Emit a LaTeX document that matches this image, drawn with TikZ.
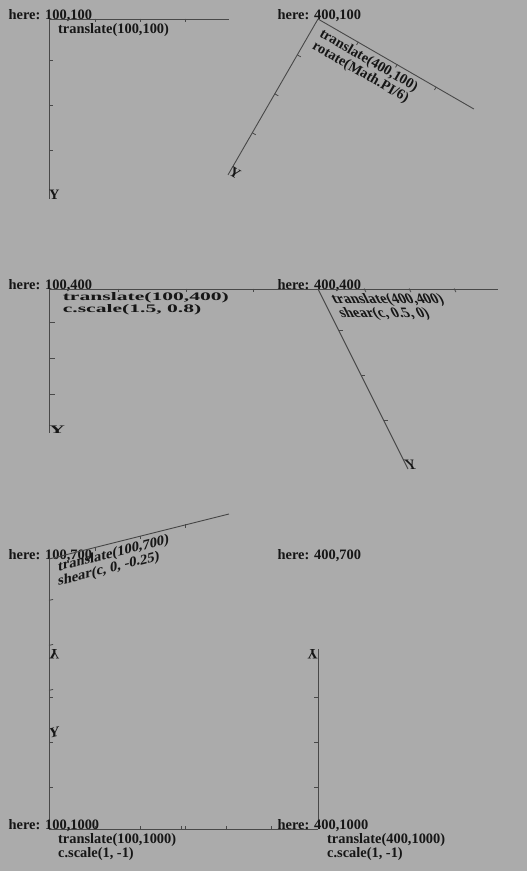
\documentclass[tikz,border=0pt]{standalone}
\usepackage{fontspec}
\setmainfont{Liberation Serif}
\definecolor{bgc}{RGB}{171,171,171}
\definecolor{txtc}{RGB}{22,22,22}
\definecolor{axc}{RGB}{72,72,72}
\newcommand\myaxes[1]{%
  \draw[axisline] (0,0) -- (200,0);
  \draw[axisline] (0,0) -- (0,-200);
  \foreach \t in {51.5,101.5,151.5} \draw[tickline] (\t,0.5) -- (\t,-3.5);
  \foreach \t in {46,96,146} \draw[tickline] (0,-\t) -- (4.5,-\t);
  \node[lbl] (#1Y) at (0,-200) {Y};
}
\begin{document}
\begin{tikzpicture}[x=1pt,y=1pt,
  axisline/.style={draw=axc,line width=0.9pt},
  tickline/.style={draw=axc,line width=0.8pt},
  lbl/.style={font=\bfseries\fontsize{16}{16}\selectfont,inner sep=0pt,anchor=base west,text=txtc,transform shape}]
\fill[bgc] (0,0) rectangle (527,-871);
\path[use as bounding box] (0,0) rectangle (527,-871);

% panel 1
\begin{scope}[shift={(49,-19)},scale=0.9]
  \node[lbl] (h1) at (-45,0) {here: 100,100};
  \myaxes{a}
  \node[lbl] (a1) at (10,-16) {translate(100,100)};
\end{scope}

% panel 2
\begin{scope}[shift={(318,-19)},scale=0.9]
  \node[lbl] (h2) at (-45,0) {here: 400,100};
  \begin{scope}[rotate=-30]
    \myaxes{b}
    \node[lbl] (b1) at (10,-16) {translate(400,100)};
    \node[lbl] (b2) at (10,-32) {rotate(Math.PI/6)};
  \end{scope}
\end{scope}

% panel 3
\begin{scope}[shift={(49,-289)},scale=0.9]
  \node[lbl] (h3) at (-45,0) {here: 100,400};
  \begin{scope}[xscale=1.5,yscale=0.8]
    \myaxes{c}
    \node[lbl] (c1) at (10,-16) {translate(100,400)};
    \node[lbl] (c2) at (10,-32) {c.scale(1.5, 0.8)};
  \end{scope}
\end{scope}

% panel 4
\begin{scope}[shift={(318,-289)},scale=0.9]
  \node[lbl] (h4) at (-45,0) {here: 400,400};
  \begin{scope}[cm={1,0,-0.5,1,(0,0)}]
    \myaxes{d}
    \node[lbl] (d1) at (10,-16) {translate(400,400)};
    \node[lbl] (d2) at (10,-32) {shear(c, 0.5, 0)};
  \end{scope}
\end{scope}

% panel 5
\begin{scope}[shift={(49,-559)},scale=0.9]
  \node[lbl] (h5) at (-45,0) {here: 100,700};
  \begin{scope}[cm={1,0.25,0,1,(0,0)}]
    \myaxes{e}
    \node[lbl] (e1) at (10,-16) {translate(100,700)};
    \node[lbl] (e2) at (10,-32) {shear(c, 0, -0.25)};
  \end{scope}
\end{scope}

% panel 6
\begin{scope}[shift={(318,-559)},scale=0.9]
  \node[lbl] (h6) at (-45,0) {here: 400,700};
\end{scope}

% panel 7
\begin{scope}[shift={(49,-829)},scale=0.9]
  \begin{scope}[yscale=-1]
    \myaxes{g}
  \end{scope}
  \node[lbl] (h7) at (-45,0) {here: 100,1000};
  \node[lbl] (g1) at (10,-16) {translate(100,1000)};
  \node[lbl] (g2) at (10,-32) {c.scale(1, -1)};
\end{scope}

% panel 8
\begin{scope}[shift={(318,-829)},scale=0.9]
  \begin{scope}[xscale=-1,yscale=-1]
    \myaxes{k}
  \end{scope}
  \node[lbl] (h8) at (-45,0) {here: 400,1000};
  \node[lbl] (k1) at (10,-16) {translate(400,1000)};
  \node[lbl] (k2) at (10,-32) {c.scale(1, -1)};
\end{scope}
\end{tikzpicture}
\end{document}
